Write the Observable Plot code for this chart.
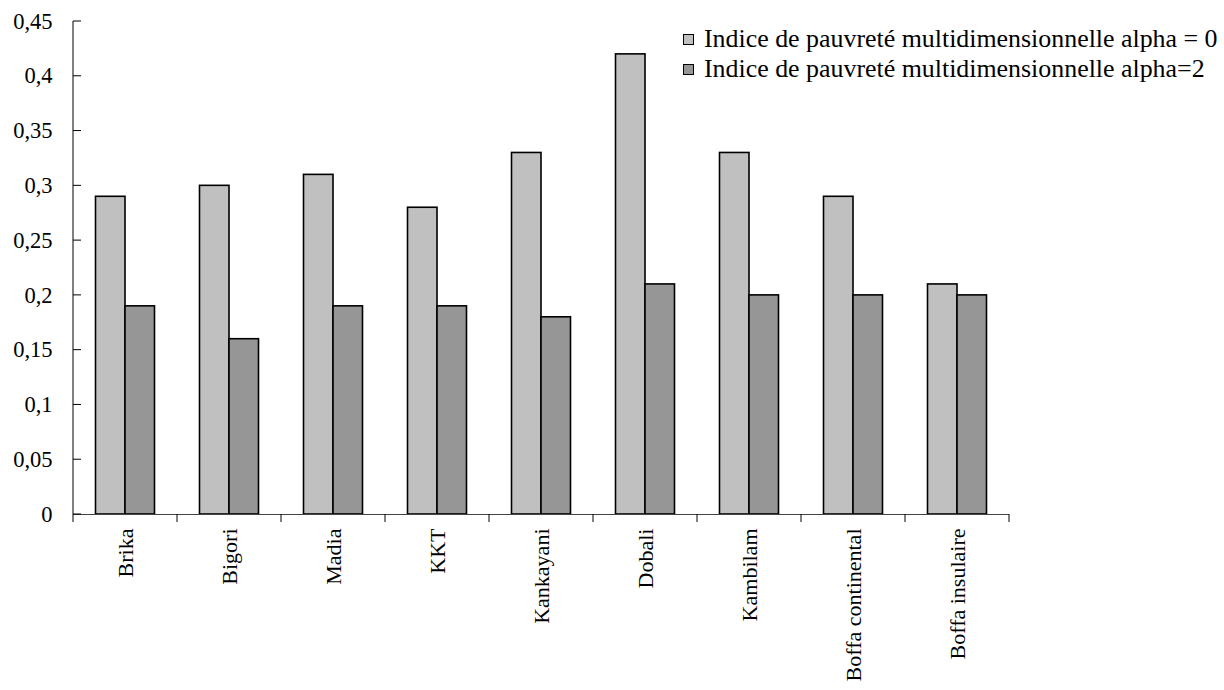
<!DOCTYPE html>
<html>
<head>
<meta charset="utf-8">
<script src="https://cdn.jsdelivr.net/npm/d3@7"></script>
<script src="https://cdn.jsdelivr.net/npm/@observablehq/plot@0.6"></script>
<style>
  html, body { margin: 0; padding: 0; background: #fff; }
  #wrap { position: relative; width: 1224px; height: 690px; font-family: "Liberation Serif", "Times New Roman", serif; }
  #legend { position: absolute; left: 683px; top: 24px; font-size: 25.9px; color: #000; line-height: 30px; }
  #legend .row { display: flex; align-items: center; white-space: nowrap; height: 30px; }
  #legend .sw { width: 9px; height: 9px; border: 1px solid #000; margin-right: 10px; flex: none; }
</style>
</head>
<body>
<div id="wrap">
  <div id="chart"></div>
  <div id="legend"></div>
</div>
<script>
const categories = ["Brika", "Bigori", "Madia", "KKT", "Kankayani", "Dobali", "Kambilam", "Boffa continental", "Boffa insulaire"];
const alpha0 = [0.29, 0.30, 0.31, 0.28, 0.33, 0.42, 0.33, 0.29, 0.21];
const alpha2 = [0.19, 0.16, 0.19, 0.19, 0.18, 0.21, 0.20, 0.20, 0.20];
const seriesNames = ["Indice de pauvreté multidimensionnelle alpha = 0", "Indice de pauvreté multidimensionnelle alpha=2"];
const seriesColors = ["#c0c0c0", "#969696"];
const yTicks = [0, 0.05, 0.1, 0.15, 0.2, 0.25, 0.3, 0.35, 0.4, 0.45];

const data = categories.map((c, i) => ({cat: c, a0: alpha0[i], a2: alpha2[i]}));
const fmt = d => String(d).replace(".", ",");

const W = 1224, H = 690;
const mL = 73, mR = 215, mT = 21, mB = 176;
const band = (W - mL - mR) / categories.length;
const barW = 29.5;
const side = (band - 2 * barW) / 2;

const plot = Plot.plot({
  width: W, height: H,
  marginLeft: mL, marginRight: mR, marginTop: mT, marginBottom: mB,
  style: {fontFamily: "'Liberation Serif', 'Times New Roman', serif", fontSize: "22px", color: "#000", background: "#fff", overflow: "visible"},
  x: {domain: categories, padding: 0, label: null},
  y: {domain: [0, 0.45], label: null},
  marks: [
    Plot.axisY({ticks: yTicks, tickFormat: fmt, tickSize: 0, tickPadding: 21, fontSize: 22.5}),
    Plot.axisX({tickSize: 0, tickRotate: -90, tickPadding: 14, fontSize: 22}),
    Plot.barY(data, {x: "cat", y: "a0", fill: seriesColors[0], stroke: "#000", strokeWidth: 1.6, insetLeft: side, insetRight: band - side - barW}),
    Plot.barY(data, {x: "cat", y: "a2", fill: seriesColors[1], stroke: "#000", strokeWidth: 1.6, insetLeft: side + barW, insetRight: side}),
    Plot.ruleY([0], {stroke: "#444", strokeWidth: 1})
  ]
});

// Axis line and ticks drawn from the plot's own scales
const svg = d3.select(plot);
const xs = plot.scale("x"), ys = plot.scale("y");
const x0 = xs.range[0], x1 = xs.range[1];
const y0 = ys.apply(0), yTop = ys.apply(0.45);
const g = svg.append("g").attr("stroke", "#000").attr("stroke-width", 1);
g.append("line").attr("x1", x0).attr("x2", x0).attr("y1", y0).attr("y2", yTop);
yTicks.forEach(t => {
  const y = ys.apply(t);
  g.append("line").attr("x1", x0).attr("x2", x0 + 8).attr("y1", y).attr("y2", y);
});
categories.forEach(c => {
  const x = xs.apply(c);
  g.append("line").attr("x1", x).attr("x2", x).attr("y1", y0).attr("y2", y0 + 8);
});
g.append("line").attr("x1", x1).attr("x2", x1).attr("y1", y0).attr("y2", y0 + 8);

document.getElementById("chart").appendChild(plot);

const legend = document.getElementById("legend");
seriesNames.forEach((n, i) => {
  const row = document.createElement("div");
  row.className = "row";
  const sw = document.createElement("span");
  sw.className = "sw";
  sw.style.background = seriesColors[i];
  const t = document.createElement("span");
  t.textContent = n;
  row.appendChild(sw); row.appendChild(t);
  legend.appendChild(row);
});
</script>
</body>
</html>
